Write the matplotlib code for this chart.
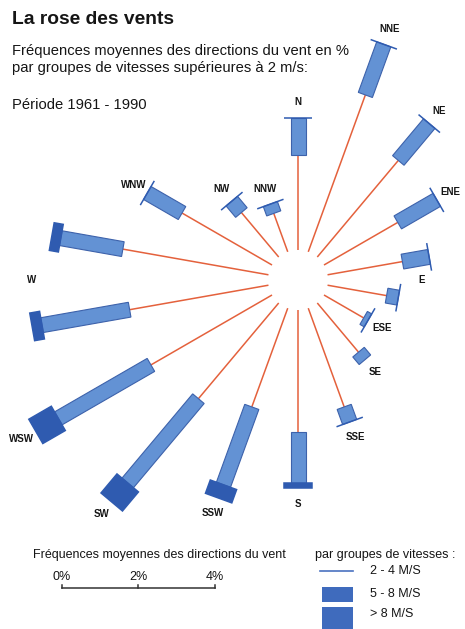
import matplotlib

matplotlib.use("Agg")

import matplotlib.pyplot as plt  # noqa: E402
import numpy as np  # noqa: E402
from matplotlib.patches import Polygon, Rectangle  # noqa: E402

plt.rcParams["font.family"] = ["Liberation Sans", "DejaVu Sans"]

# 18 sectors of 20 degrees, clockwise from north
angles = np.arange(0, 360, 20)
# mean frequency (%) of each direction, per speed group (nan: not drawn)
freq_2_4 = [2.49, 4.37, 3.30, 2.23, 1.99, 1.57, 1.20, 1.68, 2.75,
            3.19, 2.75, 3.27, 3.66, 3.69, 3.87, 2.72, 1.52, 1.07]
freq_5_8 = [0.97, 1.41, 1.26, 1.18, 0.71, 0.31, 0.13, 0.26, 0.42,
            1.34, 2.17, 2.88, 2.80, 2.33, 1.65, 1.05, 0.39, 0.26]
freq_gt8 = [0, 0, 0, 0, 0, 0, 0, np.nan, 0,
            0.13, 0.37, 0.65, 0.68, 0.26, 0.24, 0, 0, 0]

dir_labels = ["N", "NNE", "NE", "ENE", "E", "ESE", "SE", "SSE",
              "S", "SSW", "SW", "WSW", "W", "WNW", "NW", "NNW"]
label_angles = [0, 20, 40, 60, 90, 120, 140, 160,
                180, 200, 220, 240, 270, 300, 320, 340]

scale_ticks = [0, 2, 4]
speed_groups = ["2 - 4 M/S", "5 - 8 M/S", "> 8 M/S"]

W, H = 465, 629
PX = 38.2             # pixels per percent
CX, CY = 298, 280     # centre of the rose in pixels
R0 = 30 / PX          # empty circle in the middle

RED = "#e4613c"
MID = "#6392d4"
MID_EDGE = "#3d62ab"
DARK = "#2f5bb0"
TXT = "#151515"

fig = plt.figure(figsize=(W / 100, H / 100), dpi=100)

# rose axes, in percent units, centred on the rose
ax = fig.add_axes([0, 0, 1, 1])
ax.set_xlim(-CX / PX, (W - CX) / PX)
ax.set_ylim(-(H - CY) / PX, CY / PX)
ax.axis("off")

# pixel axes for the texts and legend
pix = fig.add_axes([0, 0, 1, 1], facecolor="none")
pix.set_xlim(0, W)
pix.set_ylim(H, 0)
pix.axis("off")


def strip(a_deg, r_in, r_out, width):
    a = np.radians(a_deg)
    u = np.array([np.sin(a), np.cos(a)])
    p = np.array([np.cos(a), -np.sin(a)]) * width / 2
    return [u * r_in + p, u * r_out + p, u * r_out - p, u * r_in - p]


f1 = np.array(freq_2_4)
f2 = np.array(freq_5_8)
f3 = np.array(freq_gt8)
r1 = R0 + f1
r2 = r1 + f2
r3 = r2 + np.nan_to_num(f3)

for a, a1, a2, a3, v3 in zip(angles, r1, r2, r3, f3):
    rad = np.radians(a)
    ax.plot([R0 * np.sin(rad), a1 * np.sin(rad)],
            [R0 * np.cos(rad), a1 * np.cos(rad)],
            color=RED, lw=1.1, solid_capstyle="butt", zorder=1)
    ax.add_patch(Polygon(strip(a, a1, a2, 15 / PX), closed=True,
                         facecolor=MID, edgecolor=MID_EDGE, lw=0.8, zorder=2))
    if not np.isnan(v3):
        ax.add_patch(Polygon(strip(a, a2, a3, 28 / PX), closed=True,
                             facecolor=DARK, edgecolor=DARK, lw=1.1,
                             zorder=3))

# direction labels, just beyond the bar(s) they belong to
for lab, la in zip(dir_labels, label_angles):
    diff = np.abs(((angles - la + 180) % 360) - 180)
    near = diff <= 10
    pad = 16 if near.sum() == 1 else 6
    r = r3[near].mean() + pad / PX
    rad = np.radians(la)
    ax.text(r * np.sin(rad), r * np.cos(rad), lab, fontsize=7,
            fontweight="bold", ha="center", va="center", color=TXT)

# scale bar
sx0 = (62 - CX) / PX
sy = -(588 - CY) / PX
ax.plot([sx0, sx0 + scale_ticks[-1]], [sy, sy], color="#333333", lw=1.1)
for t in scale_ticks:
    ax.plot([sx0 + t, sx0 + t], [sy, sy + 3 / PX], color="#333333", lw=1.1)
    ax.text(sx0 + t, sy + 11 / PX, f"{t}%", fontsize=9, ha="center",
            va="center", color=TXT)

# titles
pix.text(12, 20, "La rose des vents", fontsize=13.9, fontweight="bold",
         va="center", color=TXT)
pix.text(12, 51, "Fréquences moyennes des directions du vent en %",
         fontsize=10.6, va="center", color=TXT)
pix.text(12, 68, "par groupes de vitesses supérieures à 2 m/s:",
         fontsize=10.6, va="center", color=TXT)
pix.text(12, 105, "Période 1961 - 1990", fontsize=10.6, va="center",
         color=TXT)

pix.text(33, 555, "Fréquences moyennes des directions du vent", fontsize=9,
         va="center", color=TXT)
pix.text(315, 555, "par groupes de vitesses :", fontsize=9, va="center",
         color=TXT)

# legend swatches
pix.plot([320, 353], [571, 571], color="#4a72c0", lw=1.2)
pix.add_patch(Rectangle((322, 587), 31, 15, facecolor="#3f6bbd",
                        edgecolor="none"))
pix.add_patch(Rectangle((322, 607), 31, 25, facecolor="#3f6bbd",
                        edgecolor="none"))
for y, lab in zip([571, 594, 614], speed_groups):
    pix.text(370, y, lab, fontsize=9, va="center", color=TXT)

fig.savefig("out.png", dpi=100)
plt.close(fig)
